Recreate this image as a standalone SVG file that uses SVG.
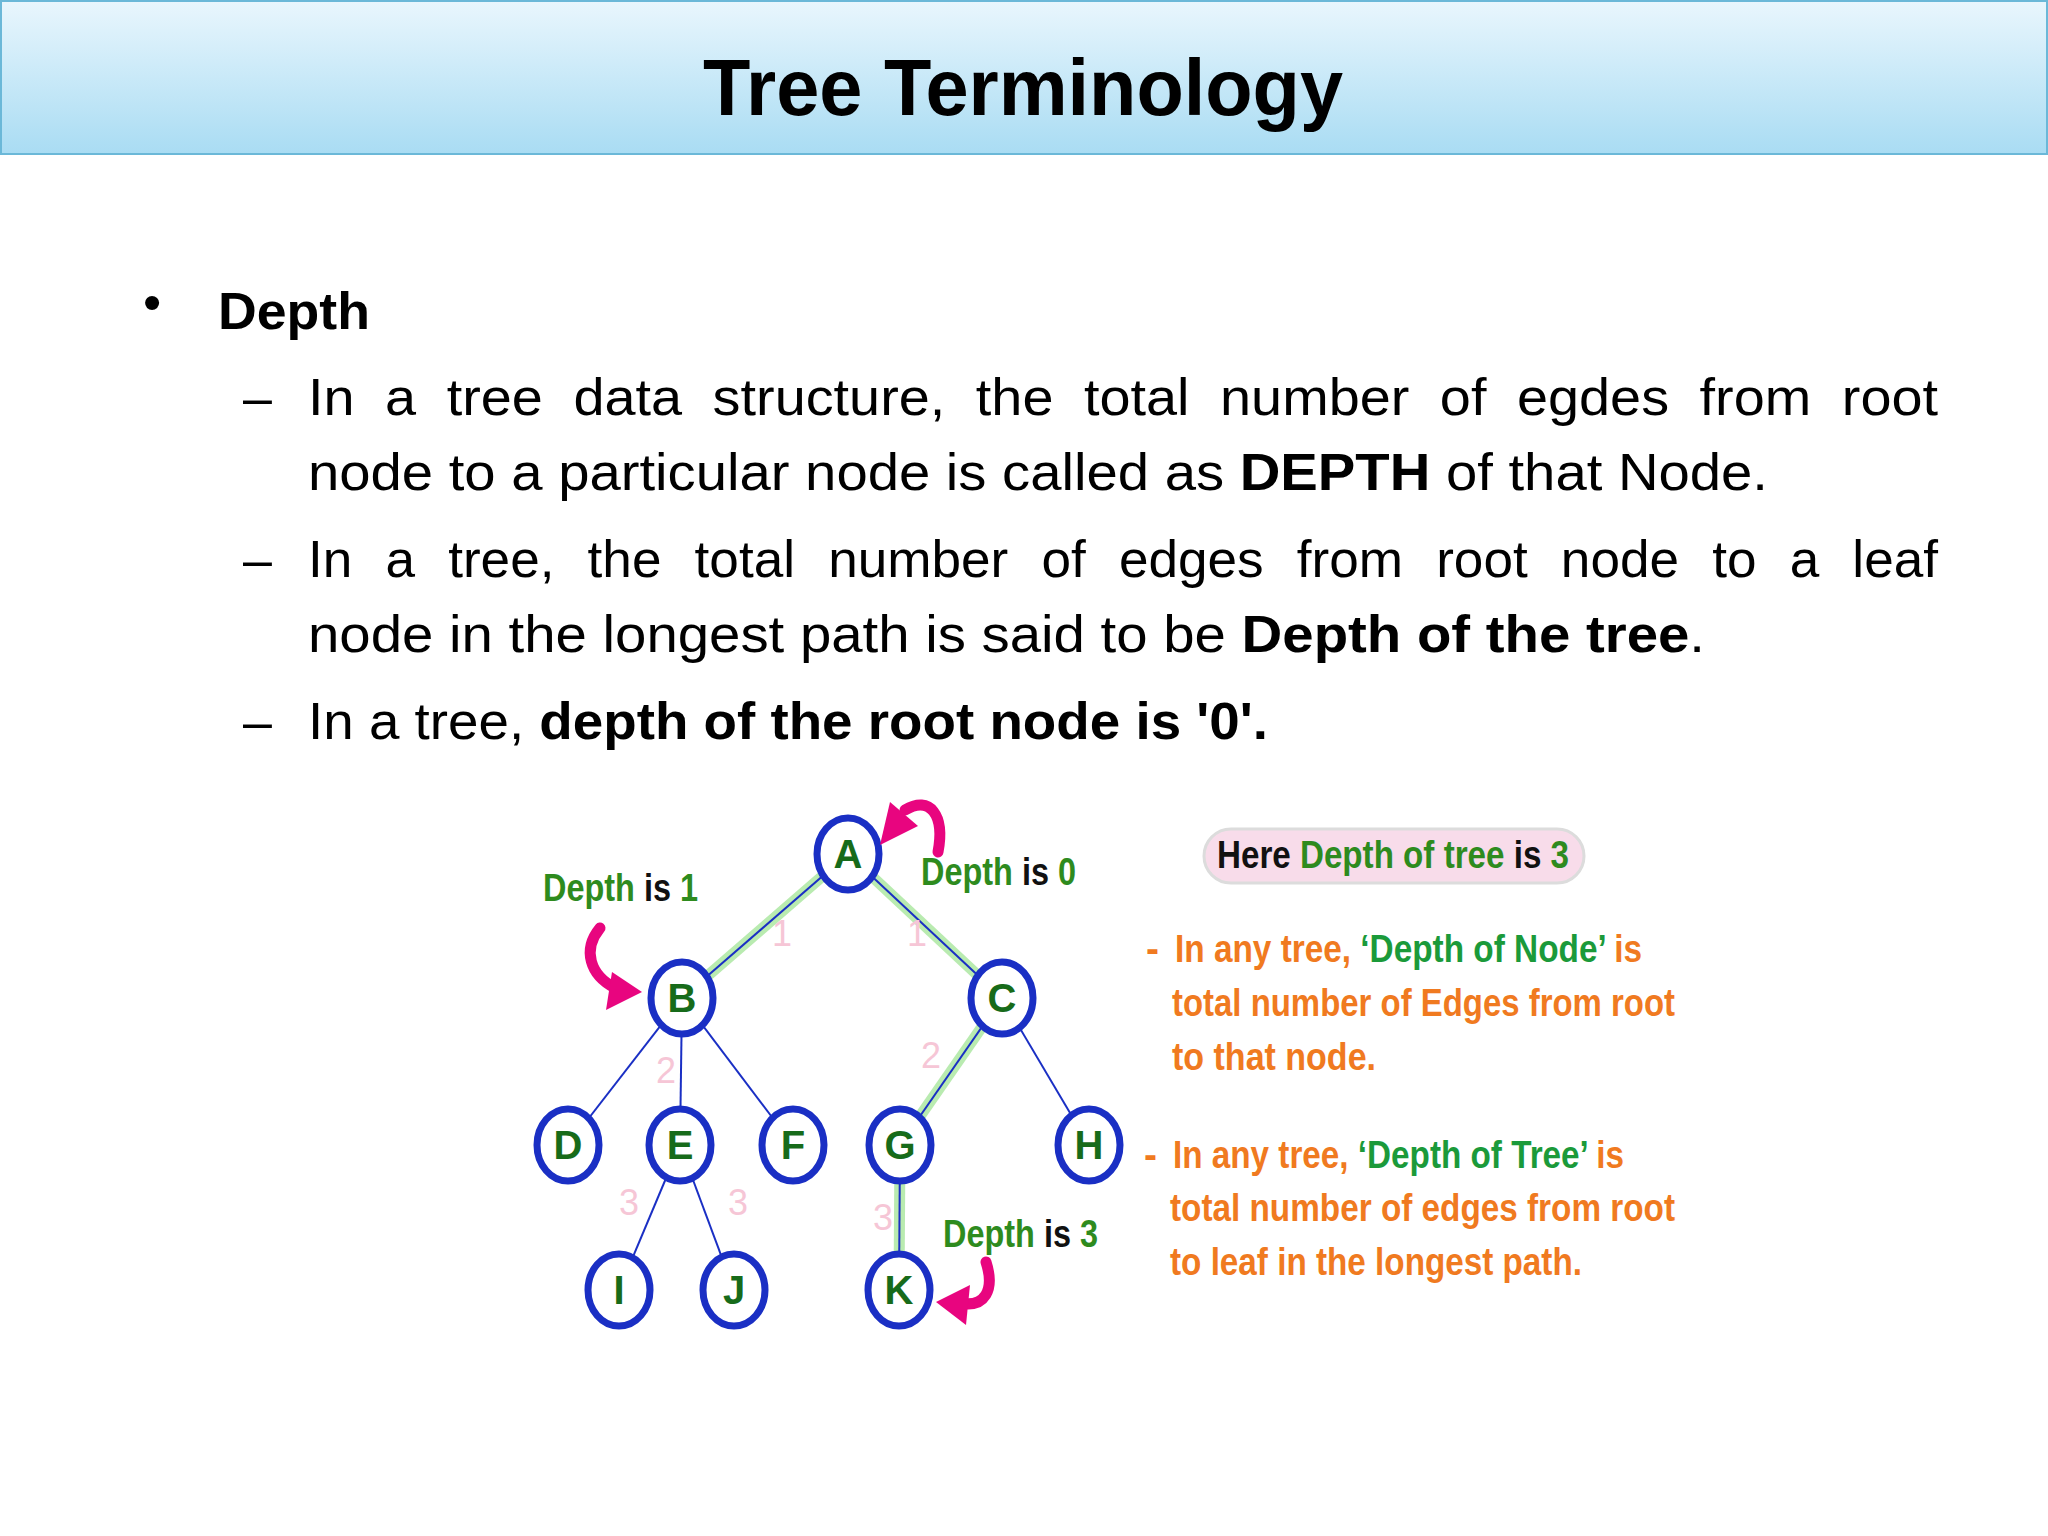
<svg xmlns="http://www.w3.org/2000/svg" width="2048" height="1536" viewBox="0 0 2048 1536">
<defs>
<linearGradient id="hdr" x1="0" y1="0" x2="0" y2="1"><stop offset="0" stop-color="#e9f6fd"/><stop offset="1" stop-color="#a9dcf3"/></linearGradient>
<style>
text{font-family:"Liberation Sans","Open Sans",sans-serif}
.body{font-size:52px;fill:#000}
.b{font-weight:bold}
.node ellipse{fill:#fff;stroke:#1a2fc4;stroke-width:7}
.node text{font-size:40px;font-weight:bold;fill:#176b1a;text-anchor:middle}
.hl{stroke:#b9ebb0;stroke-width:11;fill:none}
.edge{stroke:#1a2fc4;stroke-width:2;fill:none}
.num{font-size:36px;fill:#f6c6d6;text-anchor:middle}
.lbl{font-size:38px;font-weight:bold}
.g{fill:#2e8b1e}
.k{fill:#111}
.or{font-size:39px;font-weight:bold;fill:#f07a20}
.gr{fill:#1b9a3a}
.arr{fill:none;stroke:#e8057f;stroke-width:11;stroke-linecap:round}
.head{fill:#e8057f}
</style>
</defs>
<rect width="2048" height="1536" fill="#fff"/>
<rect x="1" y="1" width="2046" height="153" fill="url(#hdr)" stroke="#6bb8d8" stroke-width="2"/>
<text x="1023" y="115" text-anchor="middle" font-size="80" font-weight="bold" textLength="640" lengthAdjust="spacingAndGlyphs">Tree Terminology</text>

<text x="143" y="320" class="body">•</text>
<text x="218" y="329" class="body b" font-size="56" textLength="152" lengthAdjust="spacingAndGlyphs">Depth</text>
<text x="243" y="415" class="body">–</text>
<text x="308" y="415" class="body" word-spacing="14" textLength="1630" lengthAdjust="spacingAndGlyphs">In a tree data structure, the total number of egdes from root</text>
<text x="308" y="490" class="body" textLength="1460" lengthAdjust="spacingAndGlyphs">node to a particular node is called as <tspan class="b">DEPTH</tspan> of that Node.</text>
<text x="243" y="577" class="body">–</text>
<text x="308" y="577" class="body" word-spacing="18" textLength="1630" lengthAdjust="spacingAndGlyphs">In a tree, the total number of edges from root node to a leaf</text>
<text x="308" y="652" class="body" textLength="1397" lengthAdjust="spacingAndGlyphs">node in the longest path is said to be <tspan class="b">Depth of the tree</tspan>.</text>
<text x="243" y="739" class="body">–</text>
<text x="308" y="739" class="body" textLength="960" lengthAdjust="spacingAndGlyphs">In a tree, <tspan class="b">depth of the root node is '0'.</tspan></text>

<g id="connectors">
<line class="hl" x1="848" y1="854" x2="682" y2="998"/>
<line class="hl" x1="848" y1="854" x2="1002" y2="998"/>
<line class="hl" x1="1002" y1="998" x2="900" y2="1145"/>
<line class="hl" x1="900" y1="1145" x2="899" y2="1290"/>
<line class="edge" x1="848" y1="854" x2="682" y2="998"/>
<line class="edge" x1="848" y1="854" x2="1002" y2="998"/>
<line class="edge" x1="682" y1="998" x2="568" y2="1145"/>
<line class="edge" x1="682" y1="998" x2="680" y2="1145"/>
<line class="edge" x1="682" y1="998" x2="793" y2="1145"/>
<line class="edge" x1="1002" y1="998" x2="900" y2="1145"/>
<line class="edge" x1="1002" y1="998" x2="1089" y2="1145"/>
<line class="edge" x1="680" y1="1145" x2="619" y2="1290"/>
<line class="edge" x1="680" y1="1145" x2="734" y2="1290"/>
<line class="edge" x1="900" y1="1145" x2="899" y2="1290"/>
<text class="num" x="782" y="946">1</text>
<text class="num" x="917" y="946">1</text>
<text class="num" x="666" y="1083">2</text>
<text class="num" x="931" y="1068">2</text>
<text class="num" x="629" y="1215">3</text>
<text class="num" x="738" y="1215">3</text>
<text class="num" x="883" y="1230">3</text>
</g>

<g id="A" class="node"><ellipse cx="848" cy="854" rx="31" ry="36"/><text x="848" y="868">A</text></g>
<g id="B" class="node"><ellipse cx="682" cy="998" rx="31" ry="36"/><text x="682" y="1012">B</text></g>
<g id="C" class="node"><ellipse cx="1002" cy="998" rx="31" ry="36"/><text x="1002" y="1012">C</text></g>
<g id="D" class="node"><ellipse cx="568" cy="1145" rx="31" ry="36"/><text x="568" y="1159">D</text></g>
<g id="E" class="node"><ellipse cx="680" cy="1145" rx="31" ry="36"/><text x="680" y="1159">E</text></g>
<g id="F" class="node"><ellipse cx="793" cy="1145" rx="31" ry="36"/><text x="793" y="1159">F</text></g>
<g id="G" class="node"><ellipse cx="900" cy="1145" rx="31" ry="36"/><text x="900" y="1159">G</text></g>
<g id="H" class="node"><ellipse cx="1089" cy="1145" rx="31" ry="36"/><text x="1089" y="1159">H</text></g>
<g id="I" class="node"><ellipse cx="619" cy="1290" rx="31" ry="36"/><text x="619" y="1304">I</text></g>
<g id="J" class="node"><ellipse cx="734" cy="1290" rx="31" ry="36"/><text x="734" y="1304">J</text></g>
<g id="K" class="node"><ellipse cx="899" cy="1290" rx="31" ry="36"/><text x="899" y="1304">K</text></g>

<g id="arrows">
<path class="arr" d="M938,852 C945,815 930,795 905,810"/>
<polygon class="head" points="880,845 890,802 918,826"/>
<path class="arr" d="M600,928 C582,950 590,975 615,988"/>
<polygon class="head" points="642,992 606,1010 612,972"/>
<path class="arr" d="M986,1262 C995,1290 985,1308 960,1303"/>
<polygon class="head" points="936,1302 970,1285 966,1325"/>
</g>

<text class="lbl" x="543" y="901" textLength="155" lengthAdjust="spacingAndGlyphs"><tspan class="g">Depth </tspan><tspan class="k">is </tspan><tspan class="g">1</tspan></text>
<text class="lbl" x="921" y="885" textLength="155" lengthAdjust="spacingAndGlyphs"><tspan class="g">Depth </tspan><tspan class="k">is </tspan><tspan class="g">0</tspan></text>
<text class="lbl" x="943" y="1247" textLength="155" lengthAdjust="spacingAndGlyphs"><tspan class="g">Depth </tspan><tspan class="k">is </tspan><tspan class="g">3</tspan></text>

<g id="box">
<rect x="1204" y="829" width="380" height="54" rx="27" fill="#f8dcea" stroke="#dcdcdc" stroke-width="3"/>
<text class="lbl" x="1217" y="868" textLength="352" lengthAdjust="spacingAndGlyphs"><tspan class="k">Here </tspan><tspan class="g">Depth of tree </tspan><tspan class="k">is </tspan><tspan class="g">3</tspan></text>
</g>

<text class="or" x="1146" y="962">-</text>
<text class="or" x="1175" y="962" textLength="467" lengthAdjust="spacingAndGlyphs">In any tree, <tspan class="gr">‘Depth of Node’</tspan> is</text>
<text class="or" x="1172" y="1016" textLength="503" lengthAdjust="spacingAndGlyphs">total number of Edges from root</text>
<text class="or" x="1172" y="1070" textLength="204" lengthAdjust="spacingAndGlyphs">to that node.</text>
<text class="or" x="1144" y="1168">-</text>
<text class="or" x="1173" y="1168" textLength="451" lengthAdjust="spacingAndGlyphs">In any tree, <tspan class="gr">‘Depth of Tree’</tspan> is</text>
<text class="or" x="1170" y="1221" textLength="505" lengthAdjust="spacingAndGlyphs">total number of edges from root</text>
<text class="or" x="1170" y="1275" textLength="412" lengthAdjust="spacingAndGlyphs">to leaf in the longest path.</text>
</svg>
